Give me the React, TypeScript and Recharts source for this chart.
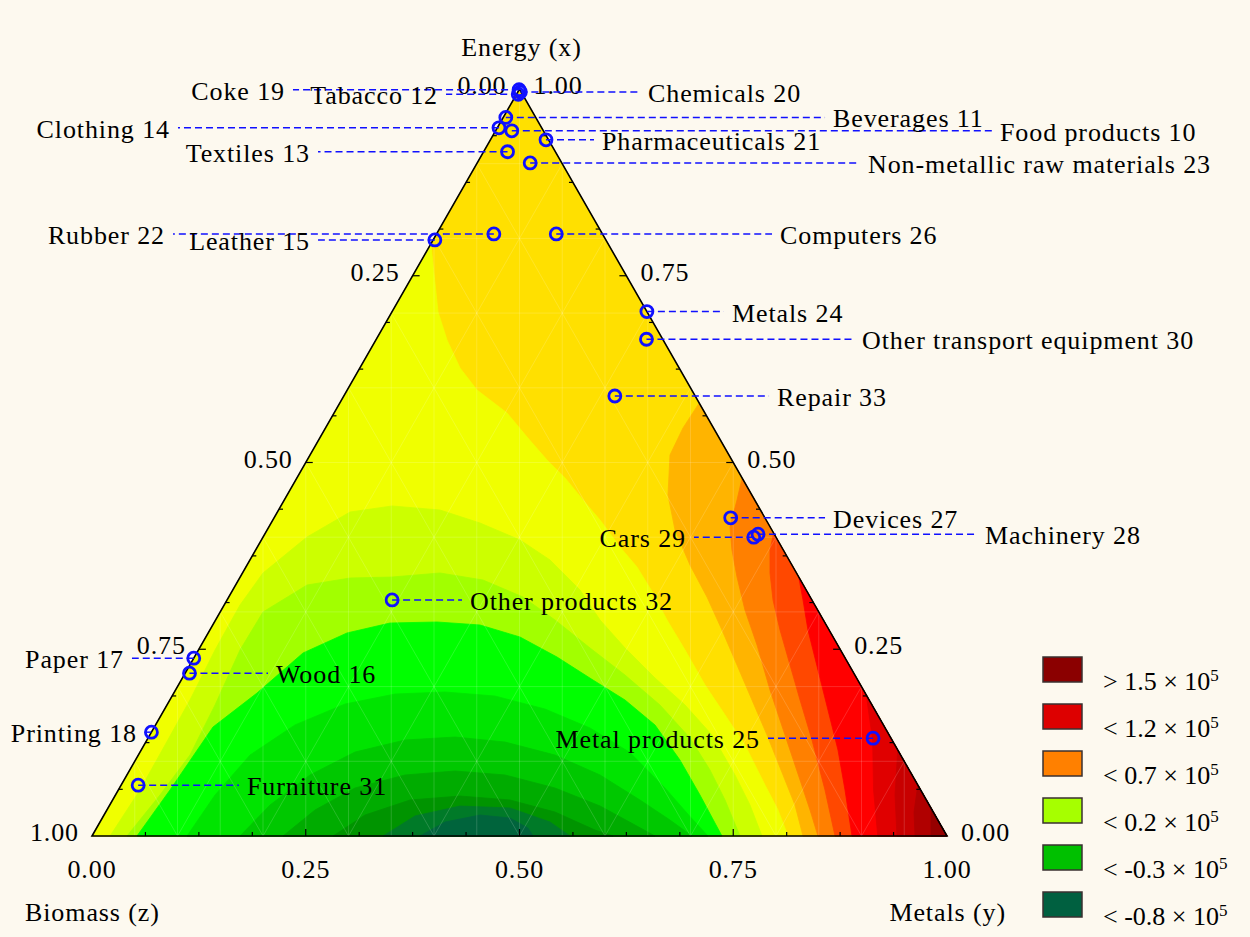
import React from 'react';
import { ScatterChart, Scatter, XAxis, YAxis } from 'recharts';

// ---------- frame geometry (layout) ----------
const CHART_W = 1250;
const CHART_H = 937;
const FRAME_LEFT = 92;
const FRAME_RIGHT = 947;
const FRAME_BOTTOM = 836;
const FRAME_TOP = 89;
const SIDE = FRAME_RIGHT - FRAME_LEFT;
const TALL = FRAME_BOTTOM - FRAME_TOP;
const X_DOMAIN: [number, number] = [-FRAME_LEFT / SIDE, (CHART_W - FRAME_LEFT) / SIDE];
const Y_DOMAIN: [number, number] = [-(CHART_H - FRAME_BOTTOM) / TALL, FRAME_BOTTOM / TALL];
const FONT = "'Liberation Serif', 'Times New Roman', serif";
const BLUE = '#1010ff';
const GAP_U = 8 / SIDE;

// ---------- sectors ----------
const sectorNames = [
  'Food products 10', 'Beverages 11', 'Tabacco 12', 'Textiles 13', 'Clothing 14', 'Leather 15',
  'Wood 16', 'Paper 17', 'Printing 18', 'Coke 19', 'Chemicals 20', 'Pharmaceuticals 21',
  'Rubber 22', 'Non-metallic raw materials 23', 'Metals 24', 'Metal products 25', 'Computers 26',
  'Devices 27', 'Machinery 28', 'Cars 29', 'Other transport equipment 30', 'Furniture 31',
  'Other products 32', 'Repair 33',
];
const energyShare = [
  0.944, 0.962, 0.993, 0.916, 0.948, 0.798,
  0.218, 0.238, 0.139, 0.999, 0.996, 0.932,
  0.806, 0.901, 0.702, 0.131, 0.806,
  0.426, 0.404, 0.400, 0.665, 0.068,
  0.316, 0.589,
];
const metalsShare = [
  0.019, 0.003, 0.002, 0.028, 0.002, 0.002,
  0.005, 0.000, 0.000, 0.000, 0.003, 0.065,
  0.067, 0.062, 0.298, 0.848, 0.140,
  0.534, 0.577, 0.574, 0.316, 0.020,
  0.193, 0.317,
];
// label placement (position of the text edge along the base, side of the marker)
const labelEdge = [
  1.062, 0.8667, 0.4047, 0.255, 0.0912, 0.255,
  0.2152, 0.0374, 0.0526, 0.2257, 0.6503, 0.5965,
  0.0854, 0.9076, 0.7485, 0.7813, 0.8047,
  0.8667, 1.0444, 0.6947, 0.9006, 0.1813,
  0.4421, 0.8012,
];
const labelSide = [
  'R', 'R', 'L', 'L', 'L', 'L',
  'R', 'L', 'L', 'L', 'R', 'R',
  'L', 'R', 'R', 'L', 'R',
  'R', 'R', 'L', 'R', 'R',
  'R', 'R',
];

// ---------- contour boundaries (base position u, energy share v) ----------
const contourGoldYellow = [
  [0.3963, 0.7925], [0.4047, 0.7015], [0.4152, 0.664], [0.4304, 0.6265], [0.4503, 0.597],
  [0.4854, 0.5663], [0.5088, 0.5341], [0.5322, 0.5033], [0.5532, 0.4793], [0.5743, 0.4498],
  [0.5942, 0.423], [0.6175, 0.3869], [0.6374, 0.3601], [0.6561, 0.3253], [0.6725, 0.2892],
  [0.6936, 0.249], [0.717, 0.2021], [0.7404, 0.162], [0.7637, 0.1218], [0.7871, 0.0683],
  [0.8023, 0.0348], [0.814, 0],
];
const contourYellowLime = [
  [0.0211, 0], [0.0561, 0.0616], [0.0854, 0.1218], [0.1146, 0.1821], [0.1439, 0.249],
  [0.1731, 0.3092], [0.2, 0.3521], [0.2515, 0.4003], [0.3018, 0.4337], [0.3509, 0.4418],
  [0.407, 0.4364], [0.4538, 0.419], [0.5006, 0.3963], [0.5357, 0.3695], [0.5708, 0.3293],
  [0.5942, 0.2892], [0.6234, 0.2517], [0.6585, 0.2115], [0.6936, 0.1754], [0.7251, 0.1352],
  [0.752, 0.0817], [0.7696, 0.0415], [0.7836, 0],
];
const contourLimeGreen = [
  [0.0409, 0], [0.0795, 0.0549], [0.1146, 0.1084], [0.1439, 0.1754], [0.1731, 0.249],
  [0.2, 0.2999], [0.2515, 0.336], [0.3018, 0.3454], [0.3509, 0.3467], [0.407, 0.3521],
  [0.4573, 0.3427], [0.5041, 0.3199], [0.5415, 0.2892], [0.5825, 0.2517], [0.6234, 0.2155],
  [0.6643, 0.1754], [0.6994, 0.1312], [0.7228, 0.0884], [0.7404, 0.0482], [0.7579, 0],
];
const contourGreen1 = [
  [0.0526, 0], [0.0912, 0.0616], [0.1415, 0.1459], [0.193, 0.1914], [0.2468, 0.245],
  [0.2982, 0.2718], [0.3485, 0.2851], [0.4035, 0.2865], [0.4538, 0.2825], [0.5006, 0.2664],
  [0.5439, 0.2396], [0.586, 0.2088], [0.6234, 0.1821], [0.6585, 0.1486], [0.6877, 0.1017],
  [0.7111, 0.0549], [0.7368, 0],
];
const contourGreen2 = [
  [0.1111, 0], [0.1439, 0.0549], [0.1848, 0.1084], [0.2374, 0.1487], [0.2959, 0.1767],
  [0.3544, 0.1901], [0.4129, 0.1928], [0.4713, 0.1874], [0.5298, 0.17], [0.5825, 0.1446],
  [0.6292, 0.1118], [0.6702, 0.0643], [0.6994, 0.0261], [0.7205, 0],
];
const contourGreen3 = [
  [0.1731, 0], [0.2082, 0.0415], [0.255, 0.0817], [0.3076, 0.1124], [0.3661, 0.1285],
  [0.4246, 0.1325], [0.483, 0.1258], [0.5415, 0.1084], [0.5942, 0.0817], [0.6409, 0.0482],
  [0.676, 0.0214], [0.7018, 0],
];
const contourGreen4 = [
  [0.2234, 0], [0.2608, 0.0348], [0.3076, 0.0643], [0.3661, 0.0817], [0.4246, 0.087],
  [0.483, 0.0817], [0.5415, 0.0643], [0.5942, 0.0402], [0.6351, 0.0147], [0.6585, 0],
];
const contourGreen5 = [
  [0.2819, 0], [0.3193, 0.0281], [0.3719, 0.0482], [0.4304, 0.0535], [0.4889, 0.0482],
  [0.5415, 0.0321], [0.5883, 0.008], [0.6094, 0],
];
const contourGreen6 = [
  [0.3404, 0], [0.3778, 0.0268], [0.4304, 0.0401], [0.4889, 0.0375], [0.5357, 0.0187], [0.5591, 0],
];
const contourGreen7 = [
  [0.3836, 0], [0.4129, 0.0187], [0.4538, 0.0281], [0.4889, 0.0241], [0.5099, 0.0107], [0.5158, 0],
];
const contourOrange1 = [
  [0.7102, 0.5797], [0.6912, 0.5462], [0.676, 0.51], [0.6737, 0.4565], [0.6819, 0.4096],
  [0.6994, 0.3628], [0.7193, 0.3199], [0.7368, 0.2758], [0.7544, 0.2289], [0.7719, 0.1821],
  [0.7895, 0.1352], [0.8082, 0.0817], [0.8222, 0.0415], [0.8316, 0],
];
const contourOrange2 = [
  [0.7604, 0.4793], [0.7544, 0.4498], [0.7462, 0.4137], [0.7485, 0.3829], [0.7544, 0.3467],
  [0.7637, 0.3025], [0.7778, 0.2557], [0.793, 0.1954], [0.8105, 0.1352], [0.8281, 0.075],
  [0.8398, 0.0348], [0.8491, 0],
];
const contourOrange3 = [
  [0.7972, 0.4056], [0.793, 0.3829], [0.793, 0.3521], [0.7965, 0.3159], [0.8047, 0.2758],
  [0.8164, 0.2289], [0.8281, 0.1821], [0.8421, 0.1285], [0.8573, 0.0616], [0.869, 0],
];
const contourRed1 = [
  [0.8266, 0.3467], [0.8316, 0.3159], [0.8374, 0.2758], [0.8491, 0.2222], [0.8608, 0.1687],
  [0.8725, 0.1151], [0.8807, 0.0616], [0.8889, 0],
];
const contourRed2 = [[0.9056, 0.1888], [0.913, 0.1285], [0.9141, 0.0616], [0.919, 0]];
const contourRed3 = [[0.9424, 0.1151], [0.9392, 0.0549], [0.9415, 0]];
const contourRed4 = [[0.9659, 0.0683], [0.9614, 0.0321], [0.9626, 0]];
const contourRed5 = [[0.9813, 0.0375], [0.9813, 0]];

const bandColors = {
  gold: '#ffe000', yellow: '#f0ff00', lime: '#ccff00', limeGreen: '#a2ff00',
  g1: '#00ff00', g2: '#00e400', g3: '#00c800', g4: '#00ac00', g5: '#009400', g6: '#007a28', g7: '#00643c',
  o1: '#ffb400', o2: '#ff8000', o3: '#ff4800', r1: '#ff0000', r2: '#e00000', r3: '#c80000', r4: '#b00000', r5: '#960000',
};

const bands: { color: string; pts: number[][] }[] = [
  { color: bandColors.gold, pts: [[0, 0], [1, 0], [0.5, 1]] },
  { color: bandColors.yellow, pts: [...contourGoldYellow, [0, 0]] },
  { color: bandColors.lime, pts: contourYellowLime },
  { color: bandColors.limeGreen, pts: contourLimeGreen },
  { color: bandColors.g1, pts: contourGreen1 },
  { color: bandColors.g2, pts: contourGreen2 },
  { color: bandColors.g3, pts: contourGreen3 },
  { color: bandColors.g4, pts: contourGreen4 },
  { color: bandColors.g5, pts: contourGreen5 },
  { color: bandColors.g6, pts: contourGreen6 },
  { color: bandColors.g7, pts: contourGreen7 },
  { color: bandColors.o1, pts: [...contourOrange1, [1, 0]] },
  { color: bandColors.o2, pts: [...contourOrange2, [1, 0]] },
  { color: bandColors.o3, pts: [...contourOrange3, [1, 0]] },
  { color: bandColors.r1, pts: [...contourRed1, [1, 0]] },
  { color: bandColors.r2, pts: [...contourRed2, [1, 0]] },
  { color: bandColors.r3, pts: [...contourRed3, [1, 0]] },
  { color: bandColors.r4, pts: [...contourRed4, [1, 0]] },
  { color: bandColors.r5, pts: [...contourRed5, [1, 0]] },
];

// ---------- axes ----------
const tickValues = [0, 0.25, 0.5, 0.75, 1];
const tickLabels = ['0.00', '0.25', '0.50', '0.75', '1.00'];
const minorTicks = [0.0625, 0.125, 0.1875, 0.25, 0.3125, 0.375, 0.4375, 0.5, 0.5625, 0.625, 0.6875, 0.75, 0.8125, 0.875, 0.9375];
const majorTicks = [0.25, 0.5, 0.75];
const meshVertical = [0.05, 0.1, 0.15, 0.2, 0.25, 0.3, 0.35, 0.4, 0.45, 0.5, 0.55, 0.6, 0.65, 0.7, 0.75, 0.8, 0.85, 0.9, 0.95];
const meshLevels = [0.1, 0.2, 0.3, 0.4, 0.5, 0.6, 0.7, 0.8, 0.9];
const axisTitles = ['Energy (x)', 'Biomass (z)', 'Metals (y)'];

// ---------- legend ----------
const legendLabels = ['> 1.5', '< 1.2', '< 0.7', '< 0.2', '< -0.3', '< -0.8'];
const legendColors = ['#8b0000', '#dd0000', '#ff8000', '#a6ff00', '#00c000', '#006040'];

// ---------- helpers ----------
type Pt = { u: number; v: number; [k: string]: any };
const toPts = (arr: number[][]): Pt[] => arr.map(([u, v]) => ({ u, v }));
const Empty = () => <g />;

const polygonLine = (color: string) => (props: any) => {
  const pts: { x: number; y: number }[] = props.points || [];
  if (pts.length < 2) return <g />;
  const d = pts.map((p, i) => (i ? 'L' : 'M') + p.x.toFixed(2) + ',' + p.y.toFixed(2)).join(' ') + ' Z';
  return <path d={d} fill={color} stroke={color} strokeWidth={0.8} strokeLinejoin="round" />;
};
const strokeLine = (stroke: string, width: number, dash?: string, opacity = 1, close = false) => (props: any) => {
  const pts: { x: number; y: number }[] = props.points || [];
  if (pts.length < 2) return <g />;
  const d = pts.map((p, i) => (i ? 'L' : 'M') + p.x.toFixed(2) + ',' + p.y.toFixed(2)).join(' ') + (close ? ' Z' : '');
  return <path d={d} fill="none" stroke={stroke} strokeWidth={width} strokeDasharray={dash} strokeOpacity={opacity} strokeLinejoin="miter" />;
};

const sectors = sectorNames.map((name, i) => ({
  name,
  energy: energyShare[i],
  metals: metalsShare[i],
  u: metalsShare[i] + energyShare[i] / 2,
  v: energyShare[i],
  edge: labelEdge[i],
  side: labelSide[i],
}));

const meshSegments: Pt[][] = [
  ...meshVertical.map((c) => [{ u: c, v: 0 }, { u: c, v: 2 * Math.min(c, 1 - c) }]),
  ...meshLevels.map((h) => [{ u: h / 2, v: h }, { u: 1 - h / 2, v: h }]),
  ...meshLevels.map((a) => [{ u: a, v: 0 }, { u: (1 + a) / 2, v: 1 - a }]),
  ...meshLevels.map((a) => [{ u: a, v: 0 }, { u: a / 2, v: a }]),
];

const textStyle = { fontFamily: FONT, fontSize: 26, fill: '#000', letterSpacing: 0.9 } as const;

const SectorLabel = (p: any) => {
  const s = p.payload;
  const right = s.side === 'R';
  return (
    <text x={p.cx} y={p.cy + 10} textAnchor={right ? 'start' : 'end'} style={textStyle}>
      {s.name}
    </text>
  );
};
const Marker = (p: any) => <circle cx={p.cx} cy={p.cy} r={6} fill="none" stroke={BLUE} strokeWidth={2.8} />;

const tickMark = (dir: 'L' | 'R' | 'B') => (p: any) => {
  const len = p.payload.major ? 7 : 4;
  if (dir === 'B') return <line x1={p.cx} y1={p.cy} x2={p.cx} y2={p.cy - len} stroke="#000" strokeWidth={1.2} />;
  const dx = dir === 'L' ? len : -len;
  return <line x1={p.cx} y1={p.cy} x2={p.cx + dx} y2={p.cy} stroke="#000" strokeWidth={1.2} />;
};
const tickText = (dir: 'L' | 'R' | 'B') => (p: any) => {
  const t = p.payload.text;
  if (dir === 'L') return <text x={p.cx - 13} y={p.cy + 5} textAnchor="end" style={textStyle}>{t}</text>;
  if (dir === 'R') return <text x={p.cx + 14} y={p.cy + 5} textAnchor="start" style={textStyle}>{t}</text>;
  return <text x={p.cx} y={p.cy + 42} textAnchor="middle" style={textStyle}>{t}</text>;
};
const titleOffsets = [
  { dx: 2, dy: -33, anchor: 'middle' },
  { dx: -67, dy: 85, anchor: 'start' },
  { dx: 59, dy: 85, anchor: 'end' },
];
const TitleText = (p: any) => {
  const o = titleOffsets[p.payload.idx];
  return (
    <text x={p.cx + o.dx} y={p.cy + o.dy} textAnchor={o.anchor as any} style={textStyle}>
      {p.payload.text}
    </text>
  );
};

const leftTickPts = tickValues.map((t, i) => ({ u: (1 - t) / 2, v: 1 - t, text: tickLabels[i] }));
const rightTickPts = tickValues.map((t, i) => ({ u: 1 - t / 2, v: t, text: tickLabels[i] }));
const bottomTickPts = tickValues.map((t, i) => ({ u: t, v: 0, text: tickLabels[i] }));
const leftMarks = minorTicks.map((t) => ({ u: t / 2, v: t, major: majorTicks.includes(t) }));
const rightMarks = minorTicks.map((t) => ({ u: 1 - t / 2, v: t, major: majorTicks.includes(t) }));
const bottomMarks = minorTicks.map((t) => ({ u: t, v: 0, major: majorTicks.includes(t) }));
const titlePts = [
  { u: 0.5, v: 1, text: axisTitles[0], idx: 0 },
  { u: 0, v: 0, text: axisTitles[1], idx: 1 },
  { u: 1, v: 0, text: axisTitles[2], idx: 2 },
];

function Legend() {
  return (
    <svg width={220} height={297} style={{ position: 'absolute', left: 1030, top: 640 }}>
      {legendLabels.map((lab, i) => (
        <g key={lab}>
          <rect x={13} y={17 + 47 * i} width={39} height={25} fill={legendColors[i]} stroke="#3a3030" strokeWidth={1.5} />
          <text x={73} y={50 + 47 * i} style={{ fontFamily: FONT, fontSize: 26, fill: '#000' }}>
            <tspan>{lab} × 10</tspan>
            <tspan dy={-9} style={{ fontSize: 17 }}>5</tspan>
          </text>
        </g>
      ))}
    </svg>
  );
}

export default function App() {
  return (
    <div style={{ position: 'absolute', left: 0, top: 0, width: CHART_W, height: CHART_H, background: '#fdf9ef' }}>
      <ScatterChart width={CHART_W} height={CHART_H} margin={{ top: 0, right: 0, bottom: 0, left: 0 }}>
        <XAxis type="number" dataKey="u" domain={X_DOMAIN} hide />
        <YAxis type="number" dataKey="v" domain={Y_DOMAIN} hide />
        {bands.map((b, i) => (
          <Scatter key={'band' + i} data={toPts(b.pts)} line={polygonLine(b.color)} shape={Empty} isAnimationActive={false} />
        ))}
        {meshSegments.map((seg, i) => (
          <Scatter key={'mesh' + i} data={seg} line={strokeLine('#ffffff', 0.8, undefined, 0.2)} shape={Empty} isAnimationActive={false} />
        ))}
        <Scatter data={toPts([[0, 0], [1, 0], [0.5, 1]])} line={strokeLine('#000', 1.6, undefined, 1, true)} shape={Empty} isAnimationActive={false} />
        <Scatter data={leftMarks} shape={tickMark('L')} isAnimationActive={false} />
        <Scatter data={rightMarks} shape={tickMark('R')} isAnimationActive={false} />
        <Scatter data={bottomMarks} shape={tickMark('B')} isAnimationActive={false} />
        <Scatter data={leftTickPts} shape={tickText('L')} isAnimationActive={false} />
        <Scatter data={rightTickPts} shape={tickText('R')} isAnimationActive={false} />
        <Scatter data={bottomTickPts} shape={tickText('B')} isAnimationActive={false} />
        <Scatter data={titlePts} shape={TitleText} isAnimationActive={false} />
        {sectors.map((s, i) => (
          <Scatter
            key={'lead' + i}
            data={[{ u: s.u, v: s.v }, { u: s.side === 'R' ? s.edge - GAP_U : s.edge + GAP_U, v: s.v }]}
            line={strokeLine(BLUE, 1.5, '7 4')}
            shape={Empty}
            isAnimationActive={false}
          />
        ))}
        <Scatter data={sectors.map((s) => ({ u: s.u, v: s.v }))} shape={Marker} isAnimationActive={false} />
        <Scatter data={sectors.map((s) => ({ u: s.edge, v: s.v, name: s.name, side: s.side }))} shape={SectorLabel} isAnimationActive={false} />
      </ScatterChart>
      <Legend />
    </div>
  );
}
